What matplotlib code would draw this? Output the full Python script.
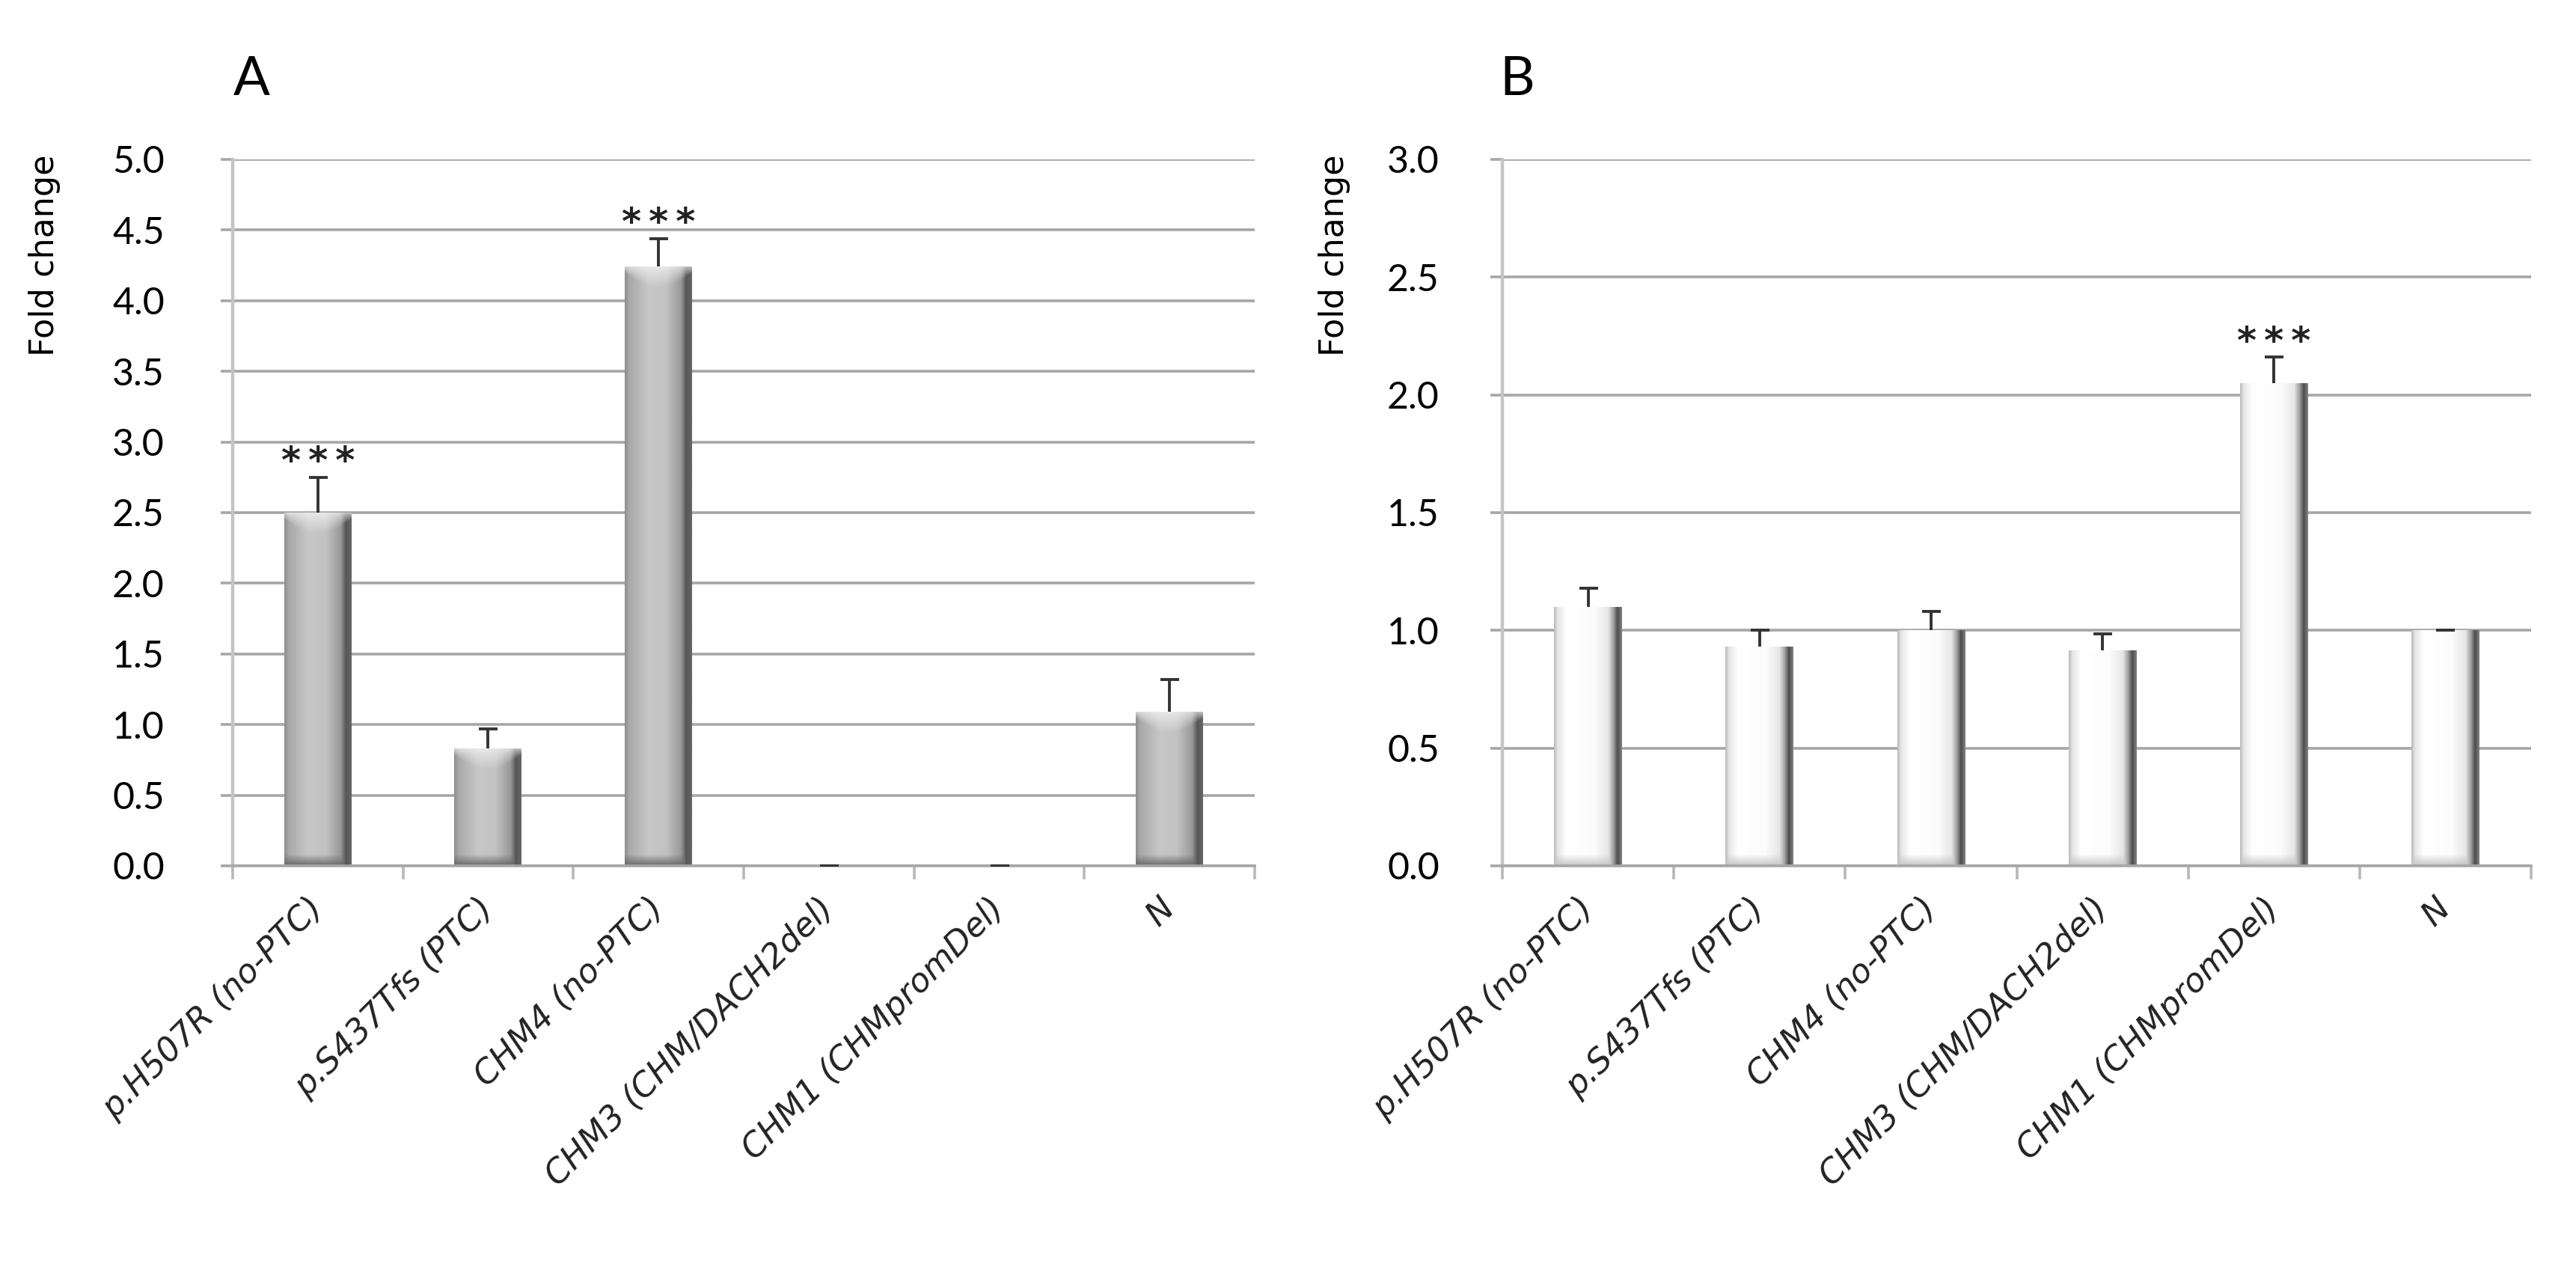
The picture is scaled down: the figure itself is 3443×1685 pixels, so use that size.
import numpy as np
import matplotlib
matplotlib.use("Agg")
import matplotlib.pyplot as plt

#********************************************#
# data
labels = ["p.H507R (no-PTC)", "p.S437Tfs (PTC)", "CHM4 (no-PTC)",
          "CHM3 (CHM/DACH2del)", "CHM1 (CHMpromDel)", "N"]

fold_a = [2.50, 0.83, 4.24, 0.0, 0.0, 1.09]
err_a = [0.25, 0.14, 0.20, 0.0, 0.0, 0.23]
stars_a = ["***", "", "***", "", "", ""]

fold_b = [1.10, 0.93, 1.00, 0.915, 2.05, 1.00]
err_b = [0.08, 0.07, 0.08, 0.07, 0.11, 0.0]
stars_b = ["", "", "", "", "***", ""]

yticks_a = [0.0, 0.5, 1.0, 1.5, 2.0, 2.5, 3.0, 3.5, 4.0, 4.5, 5.0]
yticks_b = [0.0, 0.5, 1.0, 1.5, 2.0, 2.5, 3.0]

#********************************************#
# shading profiles across the bar (0 = left edge, 1 = right edge)
prof_a_u = [0.0, 0.06, 0.35, 0.62, 0.84, 0.92, 1.0]
prof_a_v = [0.56, 0.66, 0.78, 0.76, 0.60, 0.34, 0.40]
prof_b_u = [0.0, 0.05, 0.18, 0.60, 0.80, 0.88, 0.94, 1.0]
prof_b_v = [0.74, 0.90, 1.0, 0.99, 0.90, 0.62, 0.30, 0.50]

grid_col = "#a6a6a6"
DPI = 200
W, H = 3443, 1685

fig = plt.figure(figsize=(W / DPI, H / DPI), dpi=DPI)
ax_a = fig.add_axes([0.0903, 0.3134, 0.3968, 0.5602])
ax_b = fig.add_axes([0.5832, 0.3134, 0.3994, 0.5602])


def shade_bar(ax, patch, pu, pv, top_bevel, bot_val):
    # fill a bar patch with an excel-like shaded image
    x0, y0 = patch.get_x(), patch.get_y()
    x1, y1 = x0 + patch.get_width(), y0 + patch.get_height()
    p0 = ax.transData.transform((x0, y0))
    p1 = ax.transData.transform((x1, y1))
    wpx = max(int(round(p1[0] - p0[0])), 2)
    hpx = int(round(p1[1] - p0[1]))
    if hpx < 2:
        return
    u = np.linspace(0, 1, wpx)
    base = np.interp(u, pu, pv)
    img = np.tile(base, (hpx, 1))
    r = np.arange(hpx)[:, None]
    if top_bevel > 0:
        depth = 28 * (0.30 + 0.70 * np.sin(np.pi * u))[None, :]
        light = np.clip(1 - r / depth, 0, 1)
        img = img + (1 - img) * 0.6 * light
    rb = (hpx - 1 - r)
    bb = 15
    band = np.clip(1 - rb / bb, 0, 1)
    img = img * (1 - band) + np.minimum(img, bot_val) * band
    rgb = np.dstack([img, img, img])
    im = ax.imshow(rgb, extent=(x0, x1, y0, y1), aspect="auto",
                   interpolation="bilinear", zorder=2)
    im.set_clip_path(patch)


def panel(ax, vals, errs, stars, yticks, pu, pv, top_bevel, bot_val, pad):
    x = np.arange(len(labels))
    ax.set_xlim(-0.5, len(labels) - 0.5)
    ax.set_ylim(yticks[0], yticks[-1])
    bars = ax.bar(x, vals, width=0.395, color="none", edgecolor="none",
                  zorder=2)
    for b in bars:
        shade_bar(ax, b, pu, pv, top_bevel, bot_val)
    eb = ax.errorbar(x, vals, yerr=[np.zeros(len(vals)), errs], fmt="none",
                     ecolor="#333333", elinewidth=1.4, capsize=4.5,
                     capthick=1.4, zorder=3)
    # only the upper cap, like the original
    eb[1][0].set_visible(False)
    for i in range(len(vals)):
        if stars[i]:
            ax.annotate("*\u2009*\u2009*", xy=(x[i], vals[i] + errs[i]),
                        xytext=(0, 2), textcoords="offset points",
                        ha="center", va="baseline", fontsize=18,
                        fontweight="bold", color="#222222")
    ax.set_xlim(-0.5, len(labels) - 0.5)
    ax.set_ylim(yticks[0], yticks[-1])

    ax.set_yticks(yticks)
    ax.set_yticklabels(["%.1f" % t for t in yticks], fontfamily="Lato",
                       fontsize=18)
    ax.tick_params(axis="y", length=5.8, width=1.3, color=grid_col, pad=pad)
    ax.yaxis.grid(True, color=grid_col, linewidth=1.3)
    ax.set_axisbelow(True)

    ax.set_xticks(x)
    ax.set_xticklabels(labels, fontfamily="DejaVu Sans", fontsize=16,
                       fontstyle="oblique", color="#222222")
    for t in ax.get_xticklabels():
        t.set_rotation(45)
        t.set_rotation_mode("anchor")
        t.set_ha("right")
        t.set_va("center")
    ax.set_xticks(np.arange(len(labels) + 1) - 0.5, minor=True)
    ax.tick_params(axis="x", which="major", length=0, pad=18)
    ax.tick_params(axis="x", which="minor", length=6.5, width=1.3,
                   color="#b8b8b8")

    for s in ["top", "right"]:
        ax.spines[s].set_visible(False)
    ax.spines["left"].set_color("#c4c4c4")
    ax.spines["left"].set_linewidth(1.6)
    ax.spines["bottom"].set_color(grid_col)
    ax.spines["bottom"].set_linewidth(1.3)


panel(ax_a, fold_a, err_a, stars_a, yticks_a, prof_a_u, prof_a_v, 1, 0.42, 27)
panel(ax_b, fold_b, err_b, stars_b, yticks_b, prof_b_u, prof_b_v, 0, 0.78, 24.5)

# y labels and panel letters
fig.text(60 / W, 1 - 207 / H, "Fold change", rotation=90, ha="center",
         va="top", fontsize=16)
fig.text(1783 / W, 1 - 207 / H, "Fold change", rotation=90, ha="center",
         va="top", fontsize=16)
fig.text(312 / W, 1 - 127 / H, "A", fontfamily="Lato", fontsize=26,
         va="baseline")
fig.text(2004 / W, 1 - 127 / H, "B", fontfamily="Lato", fontsize=26,
         va="baseline")

fig.savefig("out.png", dpi=DPI, facecolor="white")
